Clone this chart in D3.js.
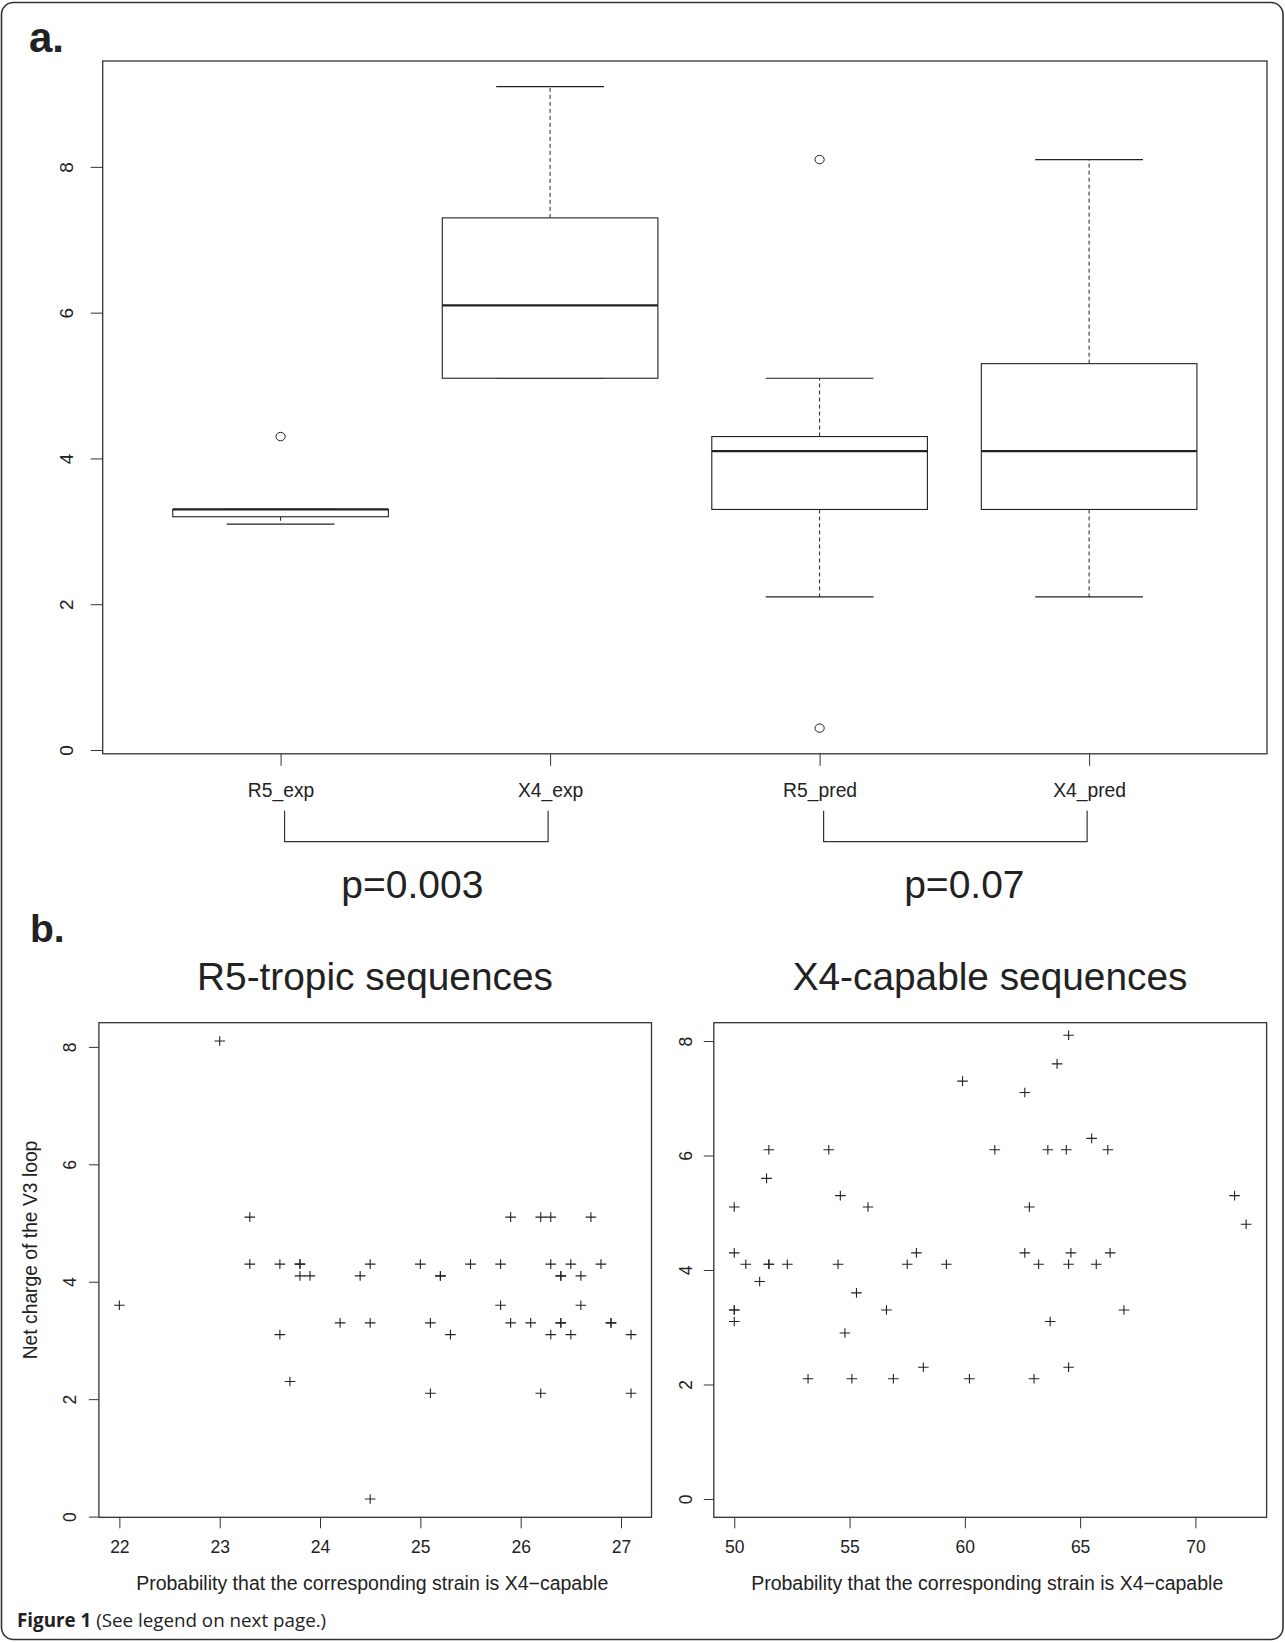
<!DOCTYPE html>
<html><head><meta charset="utf-8">
<script src="https://cdn.jsdelivr.net/npm/d3@7"></script>
<style>body{margin:0;background:#fff}svg{display:block}</style>
</head><body>
<script>
// ---------- Panel a: box plot summary statistics ----------
const boxCategories = ["R5_exp", "X4_exp", "R5_pred", "X4_pred"];
const boxLowerWhisker = [3.1, 5.1, 2.1, 2.1];
const boxQ1 = [3.2, 5.1, 3.3, 3.3];
const boxMedian = [3.3, 6.1, 4.1, 4.1];
const boxQ3 = [3.3, 7.3, 4.3, 5.3];
const boxUpperWhisker = [3.3, 9.1, 5.1, 8.1];
const boxOutliers = [[4.3], [], [8.1, 0.3], []];
const boxYTicks = [0, 2, 4, 6, 8];
const comparisons = [[0, 1], [2, 3]];
const pValues = ["p=0.003", "p=0.07"];

// ---------- Panel b: scatter data ----------
const r5Title = "R5-tropic sequences";
const r5X = [23.0,
  23.3, 25.9, 26.2, 26.3, 26.7,
  23.3, 23.6, 23.8, 23.8, 24.5, 25.0, 25.5, 25.8, 26.3, 26.5, 26.8,
  23.8, 23.9, 24.4, 25.2, 25.2, 26.4, 26.4, 26.6,
  22.0, 25.8, 26.6,
  24.2, 24.5, 25.1, 25.9, 26.1, 26.4, 26.4, 26.9, 26.9,
  23.6, 25.3, 26.3, 26.5, 27.1,
  23.7,
  25.1, 26.2, 27.1,
  24.5];
const r5Y = [8.1,
  5.1, 5.1, 5.1, 5.1, 5.1,
  4.3, 4.3, 4.3, 4.3, 4.3, 4.3, 4.3, 4.3, 4.3, 4.3, 4.3,
  4.1, 4.1, 4.1, 4.1, 4.1, 4.1, 4.1, 4.1,
  3.6, 3.6, 3.6,
  3.3, 3.3, 3.3, 3.3, 3.3, 3.3, 3.3, 3.3, 3.3,
  3.1, 3.1, 3.1, 3.1, 3.1,
  2.3,
  2.1, 2.1, 2.1,
  0.3];
const r5XTicks = [22, 23, 24, 25, 26, 27];

const x4Title = "X4-capable sequences";
const x4X = [64.5, 64.0, 59.9, 62.6, 65.5,
  51.5, 54.1, 61.3, 63.6, 64.4, 66.2,
  51.4, 54.6, 71.7,
  50.0, 55.8, 62.8,
  72.2,
  50.0, 57.9, 62.6, 64.6, 66.3,
  50.5, 51.5, 51.5, 52.3, 54.5, 57.5, 59.2, 63.2, 64.5, 65.7,
  51.1, 55.3,
  50.0, 50.0, 56.6, 66.9,
  50.0, 63.7,
  54.8,
  58.2, 64.5,
  53.2, 55.1, 56.9, 60.2, 63.0];
const x4Y = [8.1, 7.6, 7.3, 7.1, 6.3,
  6.1, 6.1, 6.1, 6.1, 6.1, 6.1,
  5.6, 5.3, 5.3,
  5.1, 5.1, 5.1,
  4.8,
  4.3, 4.3, 4.3, 4.3, 4.3,
  4.1, 4.1, 4.1, 4.1, 4.1, 4.1, 4.1, 4.1, 4.1, 4.1,
  3.8, 3.6,
  3.3, 3.3, 3.3, 3.3,
  3.1, 3.1,
  2.9,
  2.3, 2.3,
  2.1, 2.1, 2.1, 2.1, 2.1];
const x4XTicks = [50, 55, 60, 65, 70];
const scatterYTicks = [0, 2, 4, 6, 8];
const yLabel = "Net charge of the V3 loop";
const xLabel = "Probability that the corresponding strain is X4\u2212capable";

// ---------- drawing ----------
const FONT = "'Liberation Sans', Arial, Helvetica, sans-serif";
const INK = "#222";
const svg = d3.select("body").append("svg").attr("width", 1285).attr("height", 1642);
svg.append("rect").attr("width", 1285).attr("height", 1642).attr("fill", "#fff");

// outer rounded border
svg.append("rect").attr("x", 1.5).attr("y", 2.5).attr("width", 1281.5).attr("height", 1637)
  .attr("rx", 12).attr("fill", "none").attr("stroke", "#333").attr("stroke-width", 1.6);

// panel letters
svg.append("text").attr("x", 29).attr("y", 52).text("a.")
  .attr("font-family", "'Liberation Sans Narrow', 'Arial Narrow', " + FONT).attr("font-weight", "bold")
  .attr("font-size", 42).attr("fill", INK);
svg.append("text").attr("x", 30).attr("y", 941.5).text("b.")
  .attr("font-family", "'Liberation Sans Narrow', 'Arial Narrow', " + FONT).attr("font-weight", "bold")
  .attr("font-size", 39).attr("fill", INK);

function styleAxis(g, fs) {
  g.select(".domain").remove();
  g.selectAll(".tick line").attr("stroke", "#333").attr("stroke-width", 1);
  g.selectAll(".tick text").attr("font-family", FONT).attr("font-size", fs).attr("fill", INK);
}
function rotateYLabels(g, d) {
  g.selectAll(".tick text").attr("transform", "rotate(-90)").attr("x", 0).attr("y", -d)
    .attr("dy", 0).attr("text-anchor", "middle");
}

// ===== Panel a =====
const xb = d3.scaleLinear().domain([0.34, 4.66]).range([102.7, 1267]);
const yb = d3.scaleLinear().domain([0.3 - 0.352, 9.1 + 0.352]).range([753.8, 61]);
const gA = svg.append("g");

const ya = gA.append("g").attr("transform", `translate(${xb(0.34)},0)`)
  .call(d3.axisLeft(yb).tickValues(boxYTicks).tickSize(12).tickFormat(d3.format("d")));
styleAxis(ya, 19); rotateYLabels(ya, 29.5);

const xa = gA.append("g").attr("transform", `translate(0,${yb.range()[0]})`)
  .call(d3.axisBottom(xb).tickValues([1, 2, 3, 4]).tickSize(12).tickFormat(i => boxCategories[i - 1]));
styleAxis(xa, 19.3);
xa.selectAll(".tick text").attr("y", 43).attr("dy", 0);

boxCategories.forEach((c, i) => {
  const p = i + 1;
  const g = gA.append("g").attr("stroke", INK).attr("fill", "none");
  g.append("line").attr("x1", xb(p)).attr("x2", xb(p)).attr("y1", yb(boxQ3[i])).attr("y2", yb(boxUpperWhisker[i]))
    .attr("stroke-dasharray", "4,3").attr("stroke-width", 1);
  g.append("line").attr("x1", xb(p)).attr("x2", xb(p)).attr("y1", yb(boxQ1[i])).attr("y2", yb(boxLowerWhisker[i]))
    .attr("stroke-dasharray", "4,3").attr("stroke-width", 1);
  [boxUpperWhisker[i], boxLowerWhisker[i]].forEach(v => {
    g.append("line").attr("x1", xb(p - 0.2)).attr("x2", xb(p + 0.2)).attr("y1", yb(v)).attr("y2", yb(v))
      .attr("stroke-width", 1.2);
  });
  g.append("rect").attr("x", xb(p - 0.4)).attr("width", xb(p + 0.4) - xb(p - 0.4))
    .attr("y", yb(boxQ3[i])).attr("height", yb(boxQ1[i]) - yb(boxQ3[i]))
    .attr("fill", "#fff").attr("stroke-width", 1.1);
  g.append("line").attr("x1", xb(p - 0.4)).attr("x2", xb(p + 0.4)).attr("y1", yb(boxMedian[i])).attr("y2", yb(boxMedian[i]))
    .attr("stroke-width", 2.2);
  boxOutliers[i].forEach(v => {
    g.append("ellipse").attr("cx", xb(p)).attr("cy", yb(v)).attr("rx", 4.6).attr("ry", 4.2).attr("stroke-width", 1);
  });
});

gA.append("rect").attr("x", xb(0.34)).attr("y", yb.range()[1]).attr("width", xb(4.66) - xb(0.34))
  .attr("height", yb.range()[0] - yb.range()[1]).attr("fill", "none").attr("stroke", "#333").attr("stroke-width", 1.3);

comparisons.forEach(([a, b], k) => {
  const x1 = xb(a + 1) + 4, x2 = xb(b + 1) - 2;
  const yTop = 810.7, yBot = 841.7;
  gA.append("path").attr("d", `M${x1},${yTop}V${yBot}H${x2}V${yTop}`)
    .attr("fill", "none").attr("stroke", "#333").attr("stroke-width", 1.2);
  gA.append("text").attr("x", (x1 + x2) / 2 + (k === 0 ? -4 : 9)).attr("y", 897.5)
    .attr("text-anchor", "middle").attr("font-family", FONT).attr("font-size", 39).attr("fill", INK)
    .text(pValues[k]);
});

// ===== Panel b =====
function scatter(xs, ys, xDomain, yDomain, xRange, xTicks, title, titleX, yLabDist, showYLabel) {
  const yRange = [1517.3, 1022.7];
  const x = d3.scaleLinear().domain(xDomain).range(xRange);
  const y = d3.scaleLinear().domain(yDomain).range(yRange);
  const g = svg.append("g");
  const ax = g.append("g").attr("transform", `translate(0,${yRange[0]})`)
    .call(d3.axisBottom(x).tickValues(xTicks).tickSize(11).tickFormat(d3.format("d")));
  styleAxis(ax, 17.5);
  ax.selectAll(".tick text").attr("y", 36).attr("dy", 0);
  const ay = g.append("g").attr("transform", `translate(${xRange[0]},0)`)
    .call(d3.axisLeft(y).tickValues(scatterYTicks).tickSize(10).tickFormat(d3.format("d")));
  styleAxis(ay, 17.5); rotateYLabels(ay, yLabDist);

  g.append("g").selectAll("path").data(xs.map((v, i) => [v, ys[i]])).join("path")
    .attr("transform", d => `translate(${x(d[0])},${y(d[1])})`)
    .attr("d", "M-5.3,0H5.3M0,-4.8V4.8").attr("stroke", INK).attr("stroke-width", 1.1).attr("fill", "none");

  g.append("rect").attr("x", xRange[0]).attr("y", yRange[1]).attr("width", xRange[1] - xRange[0])
    .attr("height", yRange[0] - yRange[1]).attr("fill", "none").attr("stroke", "#333").attr("stroke-width", 1.3);

  g.append("text").attr("x", titleX).attr("y", 990).attr("text-anchor", "middle")
    .attr("font-family", FONT).attr("font-size", 38.8).attr("fill", INK).text(title);
  g.append("text").attr("x", (xRange[0] + xRange[1]) / 2 - 3).attr("y", 1589.5).attr("text-anchor", "middle")
    .attr("font-family", FONT).attr("font-size", 19.5).attr("fill", INK).text(xLabel);
  if (showYLabel) {
    g.append("text").attr("transform", `translate(37,1250) rotate(-90)`).attr("text-anchor", "middle")
      .attr("font-family", FONT).attr("font-size", 19.3).attr("fill", INK).text(yLabel);
  }
}

scatter(r5X, r5Y, [21.796, 27.304], [0.3 - 0.312, 8.1 + 0.312], [98.9, 651.5], r5XTicks, r5Title, 375, 22.5, true);
scatter(x4X, x4Y, [49.112, 73.088], [-0.32, 8.32], [713.8, 1266.6], x4XTicks, x4Title, 990, 21.5, false);

// caption
const cap = svg.append("text").attr("x", 17).attr("y", 1626.5)
  .attr("font-family", "'Open Sans', 'Noto Sans', sans-serif").attr("font-size", 18.8).attr("fill", INK);
cap.append("tspan").attr("font-weight", "bold").text("Figure 1");
cap.append("tspan").text(" (See legend on next page.)");
</script>
</body></html>
